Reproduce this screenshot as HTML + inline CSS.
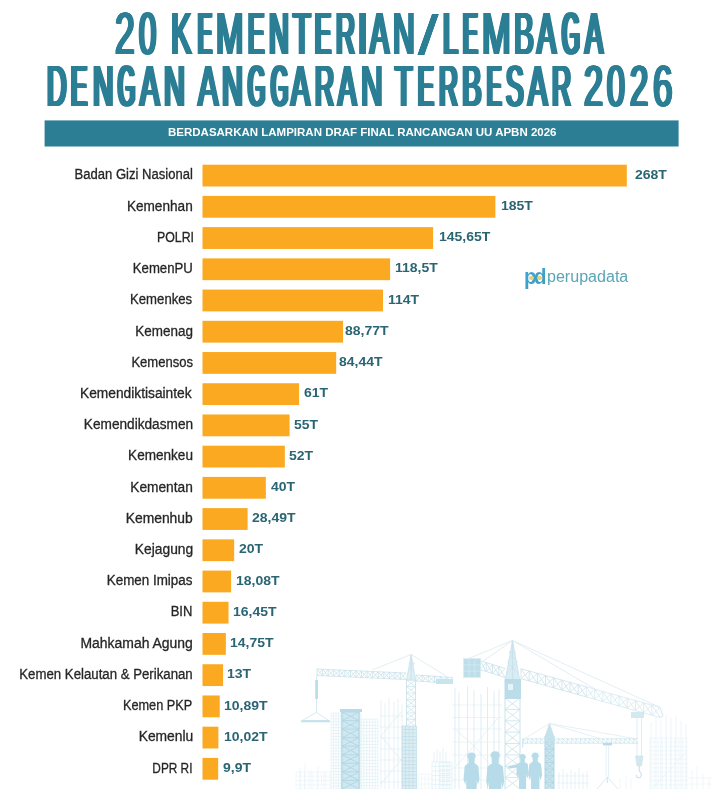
<!DOCTYPE html>
<html lang="id"><head><meta charset="utf-8"><title>20 Kementerian/Lembaga dengan Anggaran Terbesar 2026</title>
<style>
html,body{margin:0;padding:0;background:#fff;}
body{width:720px;height:789px;position:relative;overflow:hidden;font-family:"Liberation Sans",sans-serif;}
.tl{position:absolute;left:0;width:720px;height:59px;white-space:pre;font-weight:normal;color:#2b7e94;font-size:59px;line-height:59px;}
.tl span{display:inline-block;width:0;position:relative;top:0;transform-origin:0 0;}
.tl .sp{left:0;white-space:pre;}
.sub{position:absolute;white-space:nowrap;font-weight:bold;color:#fff;font-size:11.6px;line-height:12px;transform-origin:0 0;transform:scaleX(0.992);}
.lab{position:absolute;white-space:nowrap;color:#262626;-webkit-text-stroke:0.3px #262626;font-size:14px;line-height:16px;transform-origin:100% 50%;}
.val{position:absolute;white-space:nowrap;color:#2a6574;font-weight:bold;font-size:13.4px;line-height:16px;transform-origin:0 50%;}
.logo{position:absolute;left:524.6px;top:262px;height:30px;width:120px;white-space:nowrap;}
.logo .pd{position:absolute;left:-0.6px;top:-0.4px;font-weight:bold;font-size:22px;line-height:30px;letter-spacing:-2.7px;color:#46a1cd;background:linear-gradient(150deg,#3fa4df 20%,#3d9db8 80%);-webkit-background-clip:text;background-clip:text;-webkit-text-fill-color:transparent;padding:0 4px 0 1px;margin-left:-1px;transform-origin:0 50%;transform:scaleX(0.93);}
.logo .dot{position:absolute;top:13.8px;width:4.6px;height:4.6px;border-radius:50%;background:#e8cf7a;}
.logo .pn{position:absolute;left:22.6px;top:0;font-size:15.6px;line-height:30px;color:#5aa5b5;transform-origin:0 50%;transform:scaleX(1.03);}
</style></head><body>
<div class="tl" id="t1" style="top:5.00px;font-size:59px"><span style="left:115.34px;transform:scaleX(0.6024);text-shadow:-2.23px 0 0 #2b7e94,-1.49px 0 0 #2b7e94,-0.74px 0 0 #2b7e94,0.74px 0 0 #2b7e94,1.49px 0 0 #2b7e94,2.23px 0 0 #2b7e94;">2</span><span style="left:139.12px;transform:scaleX(0.5253);text-shadow:-2.96px 0 0 #2b7e94,-1.97px 0 0 #2b7e94,-0.99px 0 0 #2b7e94,0.99px 0 0 #2b7e94,1.97px 0 0 #2b7e94,2.96px 0 0 #2b7e94;">0</span><span class="sp"> </span><span style="left:170.77px;transform:scaleX(0.5239);text-shadow:-2.98px 0 0 #2b7e94,-1.98px 0 0 #2b7e94,-0.99px 0 0 #2b7e94,0.99px 0 0 #2b7e94,1.98px 0 0 #2b7e94,2.98px 0 0 #2b7e94;">K</span><span style="left:197.73px;transform:scaleX(0.3505);text-shadow:-5.40px 0 0 #2b7e94,-3.60px 0 0 #2b7e94,-1.80px 0 0 #2b7e94,1.80px 0 0 #2b7e94,3.60px 0 0 #2b7e94,5.40px 0 0 #2b7e94;">E</span><span style="left:216.31px;transform:scaleX(0.5588);text-shadow:-2.62px 0 0 #2b7e94,-1.75px 0 0 #2b7e94,-0.87px 0 0 #2b7e94,0.87px 0 0 #2b7e94,1.75px 0 0 #2b7e94,2.62px 0 0 #2b7e94;">M</span><span style="left:247.89px;transform:scaleX(0.4151);text-shadow:-4.48px 0 0 #2b7e94,-2.98px 0 0 #2b7e94,-1.49px 0 0 #2b7e94,1.49px 0 0 #2b7e94,2.98px 0 0 #2b7e94,4.48px 0 0 #2b7e94;">E</span><span style="left:269.01px;transform:scaleX(0.4655);text-shadow:-3.70px 0 0 #2b7e94,-2.46px 0 0 #2b7e94,-1.23px 0 0 #2b7e94,1.23px 0 0 #2b7e94,2.46px 0 0 #2b7e94,3.70px 0 0 #2b7e94;">N</span><span style="left:293.04px;transform:scaleX(0.4893);text-shadow:-3.38px 0 0 #2b7e94,-2.25px 0 0 #2b7e94,-1.13px 0 0 #2b7e94,1.13px 0 0 #2b7e94,2.25px 0 0 #2b7e94,3.38px 0 0 #2b7e94;">T</span><span style="left:314.97px;transform:scaleX(0.4038);text-shadow:-4.68px 0 0 #2b7e94,-3.12px 0 0 #2b7e94,-1.56px 0 0 #2b7e94,1.56px 0 0 #2b7e94,3.12px 0 0 #2b7e94,4.68px 0 0 #2b7e94;">E</span><span style="left:336.37px;transform:scaleX(0.4441);text-shadow:-4.01px 0 0 #2b7e94,-2.67px 0 0 #2b7e94,-1.34px 0 0 #2b7e94,1.34px 0 0 #2b7e94,2.67px 0 0 #2b7e94,4.01px 0 0 #2b7e94;">R</span><span style="left:354.20px;transform:scaleX(1.0545);text-shadow:0.00px 0 0 #2b7e94,0.00px 0 0 #2b7e94,0.00px 0 0 #2b7e94,0.00px 0 0 #2b7e94,0.00px 0 0 #2b7e94,0.00px 0 0 #2b7e94;">I</span><span style="left:370.26px;transform:scaleX(0.4806);text-shadow:-3.49px 0 0 #2b7e94,-2.33px 0 0 #2b7e94,-1.16px 0 0 #2b7e94,1.16px 0 0 #2b7e94,2.33px 0 0 #2b7e94,3.49px 0 0 #2b7e94;">A</span><span style="left:393.38px;transform:scaleX(0.5091);text-shadow:-3.14px 0 0 #2b7e94,-2.10px 0 0 #2b7e94,-1.05px 0 0 #2b7e94,1.05px 0 0 #2b7e94,2.10px 0 0 #2b7e94,3.14px 0 0 #2b7e94;">N</span><span style="left:417.89px;transform:scaleX(1.3036);font-size:55.8px;text-shadow:-0.30px 0 0 #2b7e94,-0.20px 0 0 #2b7e94,-0.10px 0 0 #2b7e94,0.10px 0 0 #2b7e94,0.20px 0 0 #2b7e94,0.30px 0 0 #2b7e94;">/</span><span style="left:442.60px;transform:scaleX(0.4537);text-shadow:-3.86px 0 0 #2b7e94,-2.58px 0 0 #2b7e94,-1.29px 0 0 #2b7e94,1.29px 0 0 #2b7e94,2.58px 0 0 #2b7e94,3.86px 0 0 #2b7e94;">L</span><span style="left:462.73px;transform:scaleX(0.3698);text-shadow:-5.36px 0 0 #2b7e94,-3.57px 0 0 #2b7e94,-1.79px 0 0 #2b7e94,1.79px 0 0 #2b7e94,3.57px 0 0 #2b7e94,5.36px 0 0 #2b7e94;">E</span><span style="left:481.91px;transform:scaleX(0.5853);text-shadow:-2.38px 0 0 #2b7e94,-1.58px 0 0 #2b7e94,-0.79px 0 0 #2b7e94,0.79px 0 0 #2b7e94,1.58px 0 0 #2b7e94,2.38px 0 0 #2b7e94;">M</span><span style="left:514.19px;transform:scaleX(0.5077);text-shadow:-3.16px 0 0 #2b7e94,-2.11px 0 0 #2b7e94,-1.05px 0 0 #2b7e94,1.05px 0 0 #2b7e94,2.11px 0 0 #2b7e94,3.16px 0 0 #2b7e94;">B</span><span style="left:537.35px;transform:scaleX(0.4836);text-shadow:-3.45px 0 0 #2b7e94,-2.30px 0 0 #2b7e94,-1.15px 0 0 #2b7e94,1.15px 0 0 #2b7e94,2.30px 0 0 #2b7e94,3.45px 0 0 #2b7e94;">A</span><span style="left:562.03px;transform:scaleX(0.3864);text-shadow:-5.01px 0 0 #2b7e94,-3.34px 0 0 #2b7e94,-1.67px 0 0 #2b7e94,1.67px 0 0 #2b7e94,3.34px 0 0 #2b7e94,5.01px 0 0 #2b7e94;">G</span><span style="left:584.93px;transform:scaleX(0.4567);text-shadow:-3.82px 0 0 #2b7e94,-2.55px 0 0 #2b7e94,-1.27px 0 0 #2b7e94,1.27px 0 0 #2b7e94,2.55px 0 0 #2b7e94,3.82px 0 0 #2b7e94;">A</span></div>
<div class="tl" id="t2" style="top:56.00px;font-size:58.2px"><span style="left:47.07px;transform:scaleX(0.4639);text-shadow:-3.75px 0 0 #2b7e94,-2.50px 0 0 #2b7e94,-1.25px 0 0 #2b7e94,1.25px 0 0 #2b7e94,2.50px 0 0 #2b7e94,3.75px 0 0 #2b7e94;">D</span><span style="left:71.44px;transform:scaleX(0.4131);text-shadow:-4.55px 0 0 #2b7e94,-3.03px 0 0 #2b7e94,-1.52px 0 0 #2b7e94,1.52px 0 0 #2b7e94,3.03px 0 0 #2b7e94,4.55px 0 0 #2b7e94;">E</span><span style="left:92.70px;transform:scaleX(0.4866);text-shadow:-3.45px 0 0 #2b7e94,-2.30px 0 0 #2b7e94,-1.15px 0 0 #2b7e94,1.15px 0 0 #2b7e94,2.30px 0 0 #2b7e94,3.45px 0 0 #2b7e94;">N</span><span style="left:118.36px;transform:scaleX(0.3779);text-shadow:-5.23px 0 0 #2b7e94,-3.48px 0 0 #2b7e94,-1.74px 0 0 #2b7e94,1.74px 0 0 #2b7e94,3.48px 0 0 #2b7e94,5.23px 0 0 #2b7e94;">G</span><span style="left:139.82px;transform:scaleX(0.4993);text-shadow:-3.30px 0 0 #2b7e94,-2.20px 0 0 #2b7e94,-1.10px 0 0 #2b7e94,1.10px 0 0 #2b7e94,2.20px 0 0 #2b7e94,3.30px 0 0 #2b7e94;">A</span><span style="left:163.52px;transform:scaleX(0.4977);text-shadow:-3.32px 0 0 #2b7e94,-2.21px 0 0 #2b7e94,-1.11px 0 0 #2b7e94,1.11px 0 0 #2b7e94,2.21px 0 0 #2b7e94,3.32px 0 0 #2b7e94;">N</span><span class="sp"> </span><span style="left:198.15px;transform:scaleX(0.5235);text-shadow:-3.02px 0 0 #2b7e94,-2.01px 0 0 #2b7e94,-1.01px 0 0 #2b7e94,1.01px 0 0 #2b7e94,2.01px 0 0 #2b7e94,3.02px 0 0 #2b7e94;">A</span><span style="left:222.32px;transform:scaleX(0.4977);text-shadow:-3.32px 0 0 #2b7e94,-2.21px 0 0 #2b7e94,-1.11px 0 0 #2b7e94,1.11px 0 0 #2b7e94,2.21px 0 0 #2b7e94,3.32px 0 0 #2b7e94;">N</span><span style="left:248.36px;transform:scaleX(0.3779);text-shadow:-5.23px 0 0 #2b7e94,-3.48px 0 0 #2b7e94,-1.74px 0 0 #2b7e94,1.74px 0 0 #2b7e94,3.48px 0 0 #2b7e94,5.23px 0 0 #2b7e94;">G</span><span style="left:270.86px;transform:scaleX(0.3779);text-shadow:-5.23px 0 0 #2b7e94,-3.48px 0 0 #2b7e94,-1.74px 0 0 #2b7e94,1.74px 0 0 #2b7e94,3.48px 0 0 #2b7e94,5.23px 0 0 #2b7e94;">G</span><span style="left:291.27px;transform:scaleX(0.4842);text-shadow:-3.48px 0 0 #2b7e94,-2.32px 0 0 #2b7e94,-1.16px 0 0 #2b7e94,1.16px 0 0 #2b7e94,2.32px 0 0 #2b7e94,3.48px 0 0 #2b7e94;">A</span><span style="left:315.44px;transform:scaleX(0.4536);text-shadow:-3.90px 0 0 #2b7e94,-2.60px 0 0 #2b7e94,-1.30px 0 0 #2b7e94,1.30px 0 0 #2b7e94,2.60px 0 0 #2b7e94,3.90px 0 0 #2b7e94;">R</span><span style="left:338.30px;transform:scaleX(0.4721);text-shadow:-3.64px 0 0 #2b7e94,-2.43px 0 0 #2b7e94,-1.21px 0 0 #2b7e94,1.21px 0 0 #2b7e94,2.43px 0 0 #2b7e94,3.64px 0 0 #2b7e94;">A</span><span style="left:360.88px;transform:scaleX(0.5161);text-shadow:-3.10px 0 0 #2b7e94,-2.07px 0 0 #2b7e94,-1.03px 0 0 #2b7e94,1.03px 0 0 #2b7e94,2.07px 0 0 #2b7e94,3.10px 0 0 #2b7e94;">N</span><span class="sp"> </span><span style="left:395.27px;transform:scaleX(0.4888);text-shadow:-3.43px 0 0 #2b7e94,-2.28px 0 0 #2b7e94,-1.14px 0 0 #2b7e94,1.14px 0 0 #2b7e94,2.28px 0 0 #2b7e94,3.43px 0 0 #2b7e94;">T</span><span style="left:418.03px;transform:scaleX(0.4017);text-shadow:-4.76px 0 0 #2b7e94,-3.17px 0 0 #2b7e94,-1.59px 0 0 #2b7e94,1.59px 0 0 #2b7e94,3.17px 0 0 #2b7e94,4.76px 0 0 #2b7e94;">E</span><span style="left:438.87px;transform:scaleX(0.4502);text-shadow:-3.95px 0 0 #2b7e94,-2.63px 0 0 #2b7e94,-1.32px 0 0 #2b7e94,1.32px 0 0 #2b7e94,2.63px 0 0 #2b7e94,3.95px 0 0 #2b7e94;">R</span><span style="left:462.25px;transform:scaleX(0.5069);text-shadow:-3.21px 0 0 #2b7e94,-2.14px 0 0 #2b7e94,-1.07px 0 0 #2b7e94,1.07px 0 0 #2b7e94,2.14px 0 0 #2b7e94,3.21px 0 0 #2b7e94;">B</span><span style="left:486.96px;transform:scaleX(0.3682);text-shadow:-5.40px 0 0 #2b7e94,-3.60px 0 0 #2b7e94,-1.80px 0 0 #2b7e94,1.80px 0 0 #2b7e94,3.60px 0 0 #2b7e94,5.40px 0 0 #2b7e94;">E</span><span style="left:506.35px;transform:scaleX(0.4517);text-shadow:-3.93px 0 0 #2b7e94,-2.62px 0 0 #2b7e94,-1.31px 0 0 #2b7e94,1.31px 0 0 #2b7e94,2.62px 0 0 #2b7e94,3.93px 0 0 #2b7e94;">S</span><span style="left:528.22px;transform:scaleX(0.4993);text-shadow:-3.30px 0 0 #2b7e94,-2.20px 0 0 #2b7e94,-1.10px 0 0 #2b7e94,1.10px 0 0 #2b7e94,2.20px 0 0 #2b7e94,3.30px 0 0 #2b7e94;">A</span><span style="left:551.64px;transform:scaleX(0.4536);text-shadow:-3.90px 0 0 #2b7e94,-2.60px 0 0 #2b7e94,-1.30px 0 0 #2b7e94,1.30px 0 0 #2b7e94,2.60px 0 0 #2b7e94,3.90px 0 0 #2b7e94;">R</span><span class="sp"> </span><span style="left:583.87px;transform:scaleX(0.5868);text-shadow:-2.40px 0 0 #2b7e94,-1.60px 0 0 #2b7e94,-0.80px 0 0 #2b7e94,0.80px 0 0 #2b7e94,1.60px 0 0 #2b7e94,2.40px 0 0 #2b7e94;">2</span><span style="left:607.00px;transform:scaleX(0.5481);text-shadow:-2.76px 0 0 #2b7e94,-1.84px 0 0 #2b7e94,-0.92px 0 0 #2b7e94,0.92px 0 0 #2b7e94,1.84px 0 0 #2b7e94,2.76px 0 0 #2b7e94;">0</span><span style="left:630.31px;transform:scaleX(0.5629);text-shadow:-2.62px 0 0 #2b7e94,-1.74px 0 0 #2b7e94,-0.87px 0 0 #2b7e94,0.87px 0 0 #2b7e94,1.74px 0 0 #2b7e94,2.62px 0 0 #2b7e94;">2</span><span style="left:652.56px;transform:scaleX(0.6059);text-shadow:-2.24px 0 0 #2b7e94,-1.49px 0 0 #2b7e94,-0.75px 0 0 #2b7e94,0.75px 0 0 #2b7e94,1.49px 0 0 #2b7e94,2.24px 0 0 #2b7e94;">6</span></div>
<svg style="position:absolute;left:0;top:110px" width="720" height="45" viewBox="0 110 720 45"><rect x="44.6" y="120.4" width="634" height="26.1" fill="#2b7e94"/></svg>
<div class="sub" id="sub" style="left:167.6px;top:126.3px;">BERDASARKAN LAMPIRAN DRAF FINAL RANCANGAN UU APBN 2026</div>

<div class="lab" id="l0" style="top:166.40px;right:527.50px;transform:scaleX(0.9323)">Badan Gizi Nasional</div>
<div class="val" id="v0" style="top:166.80px;left:635.32px;transform:scaleX(1.0450)">268T</div>
<div class="lab" id="l1" style="top:197.62px;right:527.28px;transform:scaleX(0.9723)">Kemenhan</div>
<div class="val" id="v1" style="top:198.02px;left:500.50px;transform:scaleX(1.0450)">185T</div>
<div class="lab" id="l2" style="top:228.84px;right:526.49px;transform:scaleX(0.8819)">POLRI</div>
<div class="val" id="v2" style="top:229.24px;left:438.50px;transform:scaleX(1.0450)">145,65T</div>
<div class="lab" id="l3" style="top:260.06px;right:526.94px;transform:scaleX(0.9404)">KemenPU</div>
<div class="val" id="v3" style="top:260.46px;left:394.50px;transform:scaleX(1.0450)">118,5T</div>
<div class="lab" id="l4" style="top:291.28px;right:527.47px;transform:scaleX(0.9388)">Kemenkes</div>
<div class="val" id="v4" style="top:291.68px;left:387.50px;transform:scaleX(1.0450)">114T</div>
<div class="lab" id="l5" style="top:322.51px;right:527.43px;transform:scaleX(0.9610)">Kemenag</div>
<div class="val" id="v5" style="top:322.91px;left:345.38px;transform:scaleX(1.0450)">88,77T</div>
<div class="lab" id="l6" style="top:353.73px;right:527.35px;transform:scaleX(0.9337)">Kemensos</div>
<div class="val" id="v6" style="top:354.13px;left:339.38px;transform:scaleX(1.0450)">84,44T</div>
<div class="lab" id="l7" style="top:384.95px;right:528.09px;transform:scaleX(0.9822)">Kemendiktisaintek</div>
<div class="val" id="v7" style="top:385.35px;left:304.00px;transform:scaleX(1.0450)">61T</div>
<div class="lab" id="l8" style="top:416.17px;right:526.98px;transform:scaleX(0.9744)">Kemendikdasmen</div>
<div class="val" id="v8" style="top:416.57px;left:294.00px;transform:scaleX(1.0450)">55T</div>
<div class="lab" id="l9" style="top:447.39px;right:527.21px;transform:scaleX(0.9686)">Kemenkeu</div>
<div class="val" id="v9" style="top:447.79px;left:289.00px;transform:scaleX(1.0450)">52T</div>
<div class="lab" id="l10" style="top:478.61px;right:527.16px;transform:scaleX(0.9807)">Kementan</div>
<div class="val" id="v10" style="top:479.01px;left:270.58px;transform:scaleX(1.0450)">40T</div>
<div class="lab" id="l11" style="top:509.83px;right:527.73px;transform:scaleX(0.9895)">Kemenhub</div>
<div class="val" id="v11" style="top:510.23px;left:252.32px;transform:scaleX(1.0450)">28,49T</div>
<div class="lab" id="l12" style="top:541.05px;right:526.82px;transform:scaleX(0.9857)">Kejagung</div>
<div class="val" id="v12" style="top:541.45px;left:239.33px;transform:scaleX(1.0450)">20T</div>
<div class="lab" id="l13" style="top:572.27px;right:527.41px;transform:scaleX(0.9584)">Kemen Imipas</div>
<div class="val" id="v13" style="top:572.67px;left:235.50px;transform:scaleX(1.0450)">18,08T</div>
<div class="lab" id="l14" style="top:603.49px;right:527.34px;transform:scaleX(0.9284)">BIN</div>
<div class="val" id="v14" style="top:603.89px;left:232.50px;transform:scaleX(1.0450)">16,45T</div>
<div class="lab" id="l15" style="top:634.72px;right:527.22px;transform:scaleX(0.9962)">Mahkamah Agung</div>
<div class="val" id="v15" style="top:635.12px;left:229.50px;transform:scaleX(1.0450)">14,75T</div>
<div class="lab" id="l16" style="top:665.94px;right:527.05px;transform:scaleX(0.9440)">Kemen Kelautan &amp; Perikanan</div>
<div class="val" id="v16" style="top:666.34px;left:226.50px;transform:scaleX(1.0450)">13T</div>
<div class="lab" id="l17" style="top:697.16px;right:527.69px;transform:scaleX(0.9088)">Kemen PKP</div>
<div class="val" id="v17" style="top:697.56px;left:223.50px;transform:scaleX(1.0450)">10,89T</div>
<div class="lab" id="l18" style="top:728.38px;right:527.18px;transform:scaleX(0.9879)">Kemenlu</div>
<div class="val" id="v18" style="top:728.78px;left:223.50px;transform:scaleX(1.0450)">10,02T</div>
<div class="lab" id="l19" style="top:759.60px;right:527.24px;transform:scaleX(0.8450)">DPR RI</div>
<div class="val" id="v19" style="top:760.00px;left:223.00px;transform:scaleX(1.0450)">9,9T</div>
<svg style="position:absolute;left:0;top:0" width="720" height="789" viewBox="0 0 720 789" fill="#faa921"><rect x="202.5" y="164.70" width="424.30" height="21.8"/><rect x="202.5" y="195.92" width="292.89" height="21.8"/><rect x="202.5" y="227.14" width="230.59" height="21.8"/><rect x="202.5" y="258.36" width="187.61" height="21.8"/><rect x="202.5" y="289.58" width="180.49" height="21.8"/><rect x="202.5" y="320.81" width="140.54" height="21.8"/><rect x="202.5" y="352.03" width="133.69" height="21.8"/><rect x="202.5" y="383.25" width="96.58" height="21.8"/><rect x="202.5" y="414.47" width="87.08" height="21.8"/><rect x="202.5" y="445.69" width="82.33" height="21.8"/><rect x="202.5" y="476.91" width="63.33" height="21.8"/><rect x="202.5" y="508.13" width="45.11" height="21.8"/><rect x="202.5" y="539.35" width="31.66" height="21.8"/><rect x="202.5" y="570.57" width="28.62" height="21.8"/><rect x="202.5" y="601.79" width="26.04" height="21.8"/><rect x="202.5" y="633.02" width="23.35" height="21.8"/><rect x="202.5" y="664.24" width="20.58" height="21.8"/><rect x="202.5" y="695.46" width="17.24" height="21.8"/><rect x="202.5" y="726.68" width="15.86" height="21.8"/><rect x="202.5" y="757.90" width="15.67" height="21.8"/></svg>
<svg style="position:absolute;left:280px;top:620px" width="440" height="169" viewBox="280 620 440 169" fill="none" stroke-linecap="butt"><path d="M296.0 772.0L296.0 789.0M300.2 772.0L300.2 789.0M304.5 772.0L304.5 789.0M308.8 772.0L308.8 789.0M313.0 772.0L313.0 789.0M317.2 772.0L317.2 789.0M321.5 772.0L321.5 789.0M325.8 772.0L325.8 789.0M330.0 772.0L330.0 789.0M296.0 772.0L330.0 772.0M296.0 776.2L330.0 776.2M296.0 780.5L330.0 780.5M296.0 784.8L330.0 784.8M296.0 789.0L330.0 789.0" stroke="#e4f1f6" stroke-width="0.5" fill="none"/><path d="M300.0 768.0L300.0 789.0M305.0 764.0L305.0 789.0M311.0 770.0L311.0 789.0M318.0 766.0L318.0 789.0M324.0 772.0L324.0 789.0" stroke="#e4f1f6" stroke-width="0.6" fill="none"/><path d="M331.0 713.0L331.0 789.0M333.5 713.0L333.5 789.0M336.0 713.0L336.0 789.0M338.5 713.0L338.5 789.0M341.0 713.0L341.0 789.0M343.5 713.0L343.5 789.0M346.0 713.0L346.0 789.0M348.5 713.0L348.5 789.0M351.0 713.0L351.0 789.0M353.5 713.0L353.5 789.0M356.0 713.0L356.0 789.0M358.5 713.0L358.5 789.0M361.0 713.0L361.0 789.0M331.0 713.0L361.0 713.0M331.0 715.9L361.0 715.9M331.0 718.8L361.0 718.8M331.0 721.8L361.0 721.8M331.0 724.7L361.0 724.7M331.0 727.6L361.0 727.6M331.0 730.5L361.0 730.5M331.0 733.5L361.0 733.5M331.0 736.4L361.0 736.4M331.0 739.3L361.0 739.3M331.0 742.2L361.0 742.2M331.0 745.2L361.0 745.2M331.0 748.1L361.0 748.1M331.0 751.0L361.0 751.0M331.0 753.9L361.0 753.9M331.0 756.8L361.0 756.8M331.0 759.8L361.0 759.8M331.0 762.7L361.0 762.7M331.0 765.6L361.0 765.6M331.0 768.5L361.0 768.5M331.0 771.5L361.0 771.5M331.0 774.4L361.0 774.4M331.0 777.3L361.0 777.3M331.0 780.2L361.0 780.2M331.0 783.2L361.0 783.2M331.0 786.1L361.0 786.1M331.0 789.0L361.0 789.0" stroke="#d6eaf1" stroke-width="0.5" fill="none"/><path d="M361.0 719.0L361.0 789.0M363.8 719.0L363.8 789.0M366.7 719.0L366.7 789.0M369.5 719.0L369.5 789.0M372.3 719.0L372.3 789.0M375.2 719.0L375.2 789.0M378.0 719.0L378.0 789.0M361.0 719.0L378.0 719.0M361.0 722.2L378.0 722.2M361.0 725.4L378.0 725.4M361.0 728.5L378.0 728.5M361.0 731.7L378.0 731.7M361.0 734.9L378.0 734.9M361.0 738.1L378.0 738.1M361.0 741.3L378.0 741.3M361.0 744.5L378.0 744.5M361.0 747.6L378.0 747.6M361.0 750.8L378.0 750.8M361.0 754.0L378.0 754.0M361.0 757.2L378.0 757.2M361.0 760.4L378.0 760.4M361.0 763.5L378.0 763.5M361.0 766.7L378.0 766.7M361.0 769.9L378.0 769.9M361.0 773.1L378.0 773.1M361.0 776.3L378.0 776.3M361.0 779.5L378.0 779.5M361.0 782.6L378.0 782.6M361.0 785.8L378.0 785.8M361.0 789.0L378.0 789.0" stroke="#d6eaf1" stroke-width="0.5" fill="none"/><rect x="341.0" y="710.0" width="19.0" height="79.0" fill="#c4e2ec" opacity="0.75"/><path d="M342.0 712.0L342.0 789.0" stroke="#b0d6e4" stroke-width="1.1"/><path d="M359.0 712.0L359.0 789.0" stroke="#b0d6e4" stroke-width="1.1"/><path d="M342.0 712.0L359.0 720.6M359.0 712.0L342.0 720.6M342.0 712.0L359.0 712.0M342.0 720.6L359.0 729.1M359.0 720.6L342.0 729.1M342.0 720.6L359.0 720.6M342.0 729.1L359.0 737.7M359.0 729.1L342.0 737.7M342.0 729.1L359.0 729.1M342.0 737.7L359.0 746.2M359.0 737.7L342.0 746.2M342.0 737.7L359.0 737.7M342.0 746.2L359.0 754.8M359.0 746.2L342.0 754.8M342.0 746.2L359.0 746.2M342.0 754.8L359.0 763.3M359.0 754.8L342.0 763.3M342.0 754.8L359.0 754.8M342.0 763.3L359.0 771.9M359.0 763.3L342.0 771.9M342.0 763.3L359.0 763.3M342.0 771.9L359.0 780.4M359.0 771.9L342.0 780.4M342.0 771.9L359.0 771.9M342.0 780.4L359.0 789.0M359.0 780.4L342.0 789.0M342.0 780.4L359.0 780.4" stroke="#b0d6e4" stroke-width="0.9" fill="none"/><rect x="340.0" y="709.0" width="22.0" height="3.0" fill="#b7dbe8" opacity="1"/><path d="M381.0 700.0L381.0 789.0M385.0 703.0L385.0 789.0M389.0 698.0L389.0 789.0M394.0 702.0L394.0 789.0M398.0 699.0L398.0 789.0M402.0 704.0L402.0 789.0" stroke="#d6eaf1" stroke-width="0.6" fill="none"/><path d="M380.0 716.0L404.0 716.0M380.0 727.0L404.0 727.0M380.0 738.0L404.0 738.0M380.0 749.0L404.0 749.0M380.0 760.0L404.0 760.0M380.0 771.0L404.0 771.0M380.0 782.0L404.0 782.0" stroke="#d6eaf1" stroke-width="0.5" fill="none"/><path d="M401.0 712.0L381.0 736.0L401.0 760.0L381.0 784.0" stroke="#d6eaf1" stroke-width="0.6" fill="none"/><path d="M406.5 680.0L406.5 726.0" stroke="#c9e2eb" stroke-width="0.8999999999999999"/><path d="M415.5 680.0L415.5 726.0" stroke="#c9e2eb" stroke-width="0.8999999999999999"/><path d="M406.5 680.0L415.5 686.6M415.5 680.0L406.5 686.6M406.5 680.0L415.5 680.0M406.5 686.6L415.5 693.1M415.5 686.6L406.5 693.1M406.5 686.6L415.5 686.6M406.5 693.1L415.5 699.7M415.5 693.1L406.5 699.7M406.5 693.1L415.5 693.1M406.5 699.7L415.5 706.3M415.5 699.7L406.5 706.3M406.5 699.7L415.5 699.7M406.5 706.3L415.5 712.9M415.5 706.3L406.5 712.9M406.5 706.3L415.5 706.3M406.5 712.9L415.5 719.4M415.5 712.9L406.5 719.4M406.5 712.9L415.5 712.9M406.5 719.4L415.5 726.0M415.5 719.4L406.5 726.0M406.5 719.4L415.5 719.4" stroke="#c9e2eb" stroke-width="0.7" fill="none"/><path d="M406.5 680.0L411.2 654.5L415.5 680.0Z" stroke="#c9e2eb" stroke-width="0.8" fill="#deeff5"/><path d="M411.2 654.5L411.2 680.0" stroke="#c9e2eb" stroke-width="1.0"/><path d="M408.0 672.0L414.5 663.0L409.0 663.0L414.0 672.0" stroke="#c9e2eb" stroke-width="0.6" fill="none"/><rect x="402.0" y="726.0" width="14.5" height="63.0" fill="#c4e2ec" opacity="0.6"/><path d="M402.0 726.0L402.0 789.0M405.6 726.0L405.6 789.0M409.2 726.0L409.2 789.0M412.9 726.0L412.9 789.0M416.5 726.0L416.5 789.0M402.0 726.0L416.5 726.0M402.0 729.5L416.5 729.5M402.0 733.0L416.5 733.0M402.0 736.5L416.5 736.5M402.0 740.0L416.5 740.0M402.0 743.5L416.5 743.5M402.0 747.0L416.5 747.0M402.0 750.5L416.5 750.5M402.0 754.0L416.5 754.0M402.0 757.5L416.5 757.5M402.0 761.0L416.5 761.0M402.0 764.5L416.5 764.5M402.0 768.0L416.5 768.0M402.0 771.5L416.5 771.5M402.0 775.0L416.5 775.0M402.0 778.5L416.5 778.5M402.0 782.0L416.5 782.0M402.0 785.5L416.5 785.5M402.0 789.0L416.5 789.0" stroke="#b9dae6" stroke-width="0.6" fill="none"/><path d="M317.0 669.0L406.0 673.0" stroke="#c9e2eb" stroke-width="0.8"/><path d="M317.0 675.5L406.0 679.5" stroke="#c9e2eb" stroke-width="0.8"/><path d="M317.0 669.0L322.6 675.8M317.0 675.5L322.6 669.2M317.0 669.0L317.0 675.5M322.6 669.2L328.1 676.0M322.6 675.8L328.1 669.5M322.6 669.2L322.6 675.8M328.1 669.5L333.7 676.2M328.1 676.0L333.7 669.8M328.1 669.5L328.1 676.0M333.7 669.8L339.2 676.5M333.7 676.2L339.2 670.0M333.7 669.8L333.7 676.2M339.2 670.0L344.8 676.8M339.2 676.5L344.8 670.2M339.2 670.0L339.2 676.5M344.8 670.2L350.4 677.0M344.8 676.8L350.4 670.5M344.8 670.2L344.8 676.8M350.4 670.5L355.9 677.2M350.4 677.0L355.9 670.8M350.4 670.5L350.4 677.0M355.9 670.8L361.5 677.5M355.9 677.2L361.5 671.0M355.9 670.8L355.9 677.2M361.5 671.0L367.1 677.8M361.5 677.5L367.1 671.2M361.5 671.0L361.5 677.5M367.1 671.2L372.6 678.0M367.1 677.8L372.6 671.5M367.1 671.2L367.1 677.8M372.6 671.5L378.2 678.2M372.6 678.0L378.2 671.8M372.6 671.5L372.6 678.0M378.2 671.8L383.8 678.5M378.2 678.2L383.8 672.0M378.2 671.8L378.2 678.2M383.8 672.0L389.3 678.8M383.8 678.5L389.3 672.2M383.8 672.0L383.8 678.5M389.3 672.2L394.9 679.0M389.3 678.8L394.9 672.5M389.3 672.2L389.3 678.8M394.9 672.5L400.4 679.2M394.9 679.0L400.4 672.8M394.9 672.5L394.9 679.0M400.4 672.8L406.0 679.5M400.4 679.2L406.0 673.0M400.4 672.8L400.4 679.2" stroke="#c9e2eb" stroke-width="0.8" fill="none"/><path d="M416.0 675.0L453.0 677.5" stroke="#c9e2eb" stroke-width="0.8"/><path d="M416.0 681.0L453.0 683.5" stroke="#c9e2eb" stroke-width="0.8"/><path d="M416.0 675.0L422.2 681.4M416.0 681.0L422.2 675.4M416.0 675.0L416.0 681.0M422.2 675.4L428.3 681.8M422.2 681.4L428.3 675.8M422.2 675.4L422.2 681.4M428.3 675.8L434.5 682.2M428.3 681.8L434.5 676.2M428.3 675.8L428.3 681.8M434.5 676.2L440.7 682.7M434.5 682.2L440.7 676.7M434.5 676.2L434.5 682.2M440.7 676.7L446.8 683.1M440.7 682.7L446.8 677.1M440.7 676.7L440.7 682.7M446.8 677.1L453.0 683.5M446.8 683.1L453.0 677.5M446.8 677.1L446.8 683.1" stroke="#c9e2eb" stroke-width="0.8" fill="none"/><rect x="436.0" y="679.0" width="17.0" height="5.0" fill="#c4e2ec" opacity="0.9"/><path d="M411.2 654.5L372.0 670.0" stroke="#d7e6ec" stroke-width="0.7"/><path d="M411.2 654.5L446.0 676.0" stroke="#d7e6ec" stroke-width="0.7"/><path d="M316.5 676.0L316.5 713.0" stroke="#c9e2eb" stroke-width="0.7"/><rect x="315.3" y="680.0" width="2.6" height="19.0" fill="#b7dbe8" opacity="1"/><path d="M316.5 712.5L302.0 720.5L329.0 720.5Z" stroke="#c9e2eb" stroke-width="0.7" fill="none"/><rect x="301.0" y="720.3" width="29.0" height="2.0" fill="#c4e2ec" opacity="1"/><path d="M432.0 762.0L432.0 789.0M435.6 762.0L435.6 789.0M439.2 762.0L439.2 789.0M442.8 762.0L442.8 789.0M446.4 762.0L446.4 789.0M450.0 762.0L450.0 789.0M432.0 762.0L450.0 762.0M432.0 766.5L450.0 766.5M432.0 771.0L450.0 771.0M432.0 775.5L450.0 775.5M432.0 780.0L450.0 780.0M432.0 784.5L450.0 784.5M432.0 789.0L450.0 789.0" stroke="#d6eaf1" stroke-width="0.5" fill="none"/><path d="M434.0 752.0L434.0 762.0M437.0 749.0L437.0 762.0M440.0 751.0L440.0 762.0M443.0 748.0L443.0 762.0M446.0 752.0L446.0 762.0" stroke="#d6eaf1" stroke-width="0.6" fill="none"/><path d="M418.0 774.0L418.0 789.0M421.5 774.0L421.5 789.0M425.0 774.0L425.0 789.0M428.5 774.0L428.5 789.0M432.0 774.0L432.0 789.0M418.0 774.0L432.0 774.0M418.0 779.0L432.0 779.0M418.0 784.0L432.0 784.0M418.0 789.0L432.0 789.0" stroke="#e4f1f6" stroke-width="0.5" fill="none"/><path d="M455.0 688.0L455.0 789.0M459.0 692.0L459.0 789.0M467.5 686.0L467.5 789.0M474.0 690.0L474.0 789.0M481.0 694.0L481.0 789.0M487.5 687.0L487.5 789.0M494.0 691.0L494.0 789.0M499.0 689.0L499.0 789.0" stroke="#c9e2eb" stroke-width="0.6" fill="none"/><path d="M452.0 705.0L502.0 705.0M452.0 717.5L502.0 717.5M452.0 729.0L502.0 729.0M452.0 742.0L502.0 742.0M452.0 755.0L502.0 755.0M452.0 768.0L502.0 768.0M452.0 780.0L502.0 780.0" stroke="#d6eaf1" stroke-width="0.5" fill="none"/><path d="M498.0 718.0L474.0 746.0L498.0 774.0" stroke="#d6eaf1" stroke-width="0.6" fill="none"/><path d="M456.0 730.0L474.0 746.0L456.0 766.0" stroke="#d6eaf1" stroke-width="0.6" fill="none"/><path d="M505.0 698.0L505.0 789.0" stroke="#c9e2eb" stroke-width="1.0"/><path d="M520.0 698.0L520.0 789.0" stroke="#c9e2eb" stroke-width="1.0"/><path d="M505.0 698.0L520.0 709.4M520.0 698.0L505.0 709.4M505.0 698.0L520.0 698.0M505.0 709.4L520.0 720.8M520.0 709.4L505.0 720.8M505.0 709.4L520.0 709.4M505.0 720.8L520.0 732.1M520.0 720.8L505.0 732.1M505.0 720.8L520.0 720.8M505.0 732.1L520.0 743.5M520.0 732.1L505.0 743.5M505.0 732.1L520.0 732.1M505.0 743.5L520.0 754.9M520.0 743.5L505.0 754.9M505.0 743.5L520.0 743.5M505.0 754.9L520.0 766.2M520.0 754.9L505.0 766.2M505.0 754.9L520.0 754.9M505.0 766.2L520.0 777.6M520.0 766.2L505.0 777.6M505.0 766.2L520.0 766.2M505.0 777.6L520.0 789.0M520.0 777.6L505.0 789.0M505.0 777.6L520.0 777.6" stroke="#c9e2eb" stroke-width="0.8" fill="none"/><path d="M505.0 682.0L512.5 640.5L520.0 682.0Z" stroke="#c9e2eb" stroke-width="0.9" fill="#d9edf4"/><path d="M512.5 640.5L512.5 682.0" stroke="#c9e2eb" stroke-width="1.2"/><path d="M506.5 674.0L517.5 662.0L509.0 652.0L515.5 652.0L507.5 662.0L518.5 674.0" stroke="#c9e2eb" stroke-width="0.6" fill="none"/><rect x="504.5" y="679.0" width="16.5" height="20.0" fill="#b7dbe8" opacity="0.95"/><rect x="508.0" y="684.0" width="5.0" height="6.0" fill="#e6f3f8" opacity="1"/><path d="M480.0 660.5L505.0 668.5" stroke="#c9e2eb" stroke-width="0.8"/><path d="M480.0 669.5L505.0 677.5" stroke="#c9e2eb" stroke-width="0.8"/><path d="M480.0 660.5L486.2 671.5M480.0 669.5L486.2 662.5M480.0 660.5L480.0 669.5M486.2 662.5L492.5 673.5M486.2 671.5L492.5 664.5M486.2 662.5L486.2 671.5M492.5 664.5L498.8 675.5M492.5 673.5L498.8 666.5M492.5 664.5L492.5 673.5M498.8 666.5L505.0 677.5M498.8 675.5L505.0 668.5M498.8 666.5L498.8 675.5" stroke="#c9e2eb" stroke-width="0.8" fill="none"/><rect x="463.5" y="658.5" width="17.0" height="19.0" fill="#b7dbe8" opacity="0.9"/><path d="M463.5 658.5L463.5 677.5M469.2 658.5L469.2 677.5M474.8 658.5L474.8 677.5M480.5 658.5L480.5 677.5M463.5 658.5L480.5 658.5M463.5 664.8L480.5 664.8M463.5 671.2L480.5 671.2M463.5 677.5L480.5 677.5" stroke="#d9edf4" stroke-width="0.6" fill="none"/><path d="M521.0 668.7L586.4 686.9" stroke="#c9e2eb" stroke-width="0.8"/><path d="M521.0 678.7L586.4 696.9" stroke="#c9e2eb" stroke-width="0.8"/><path d="M521.0 668.7L529.2 681.0M521.0 678.7L529.2 671.0M521.0 668.7L521.0 678.7M529.2 671.0L537.4 683.3M529.2 681.0L537.4 673.3M529.2 671.0L529.2 681.0M537.4 673.3L545.5 685.5M537.4 683.3L545.5 675.5M537.4 673.3L537.4 683.3M545.5 675.5L553.7 687.8M545.5 685.5L553.7 677.8M545.5 675.5L545.5 685.5M553.7 677.8L561.9 690.1M553.7 687.8L561.9 680.1M553.7 677.8L553.7 687.8M561.9 680.1L570.1 692.4M561.9 690.1L570.1 682.4M561.9 680.1L561.9 690.1M570.1 682.4L578.2 694.6M570.1 692.4L578.2 684.6M570.1 682.4L570.1 692.4M578.2 684.6L586.4 696.9M578.2 694.6L586.4 686.9M578.2 684.6L578.2 694.6" stroke="#c9e2eb" stroke-width="0.8" fill="none"/><path d="M586.4 686.9L660.0 707.4" stroke="#d6e9f0" stroke-width="0.8"/><path d="M586.4 696.9L660.0 717.4" stroke="#d6e9f0" stroke-width="0.8"/><path d="M586.4 686.9L594.6 699.2M586.4 696.9L594.6 689.2M586.4 686.9L586.4 696.9M594.6 689.2L602.8 701.5M594.6 699.2L602.8 691.5M594.6 689.2L594.6 699.2M602.8 691.5L610.9 703.7M602.8 701.5L610.9 693.7M602.8 691.5L602.8 701.5M610.9 693.7L619.1 706.0M610.9 703.7L619.1 696.0M610.9 693.7L610.9 703.7M619.1 696.0L627.3 708.3M619.1 706.0L627.3 698.3M619.1 696.0L619.1 706.0M627.3 698.3L635.5 710.6M627.3 708.3L635.5 700.6M627.3 698.3L627.3 708.3M635.5 700.6L643.6 712.8M635.5 710.6L643.6 702.8M635.5 700.6L635.5 710.6M643.6 702.8L651.8 715.1M643.6 712.8L651.8 705.1M643.6 702.8L643.6 712.8M651.8 705.1L660.0 717.4M651.8 715.1L660.0 707.4M651.8 705.1L651.8 715.1" stroke="#d6e9f0" stroke-width="0.8" fill="none"/><path d="M660.0 707.4L663.0 716.0L660.0 717.4" stroke="#c9e2eb" stroke-width="0.8" fill="none"/><path d="M512.5 640.5L465.0 660.0" stroke="#d7e6ec" stroke-width="0.7"/><path d="M512.5 640.5L482.0 662.0" stroke="#d7e6ec" stroke-width="0.7"/><path d="M512.5 640.5L660.0 707.5" stroke="#d7e6ec" stroke-width="0.7"/><path d="M512.5 640.5L597.0 690.3" stroke="#d7e6ec" stroke-width="0.7"/><rect x="631.0" y="712.0" width="13.0" height="6.0" fill="#cfe6ee" opacity="0.9"/><path d="M637.0 718.0L637.0 757.0" stroke="#d3e7ee" stroke-width="0.7"/><path d="M641.5 718.0L641.5 757.0" stroke="#d3e7ee" stroke-width="0.7"/><path d="M635.5 756.0L643.0 756.0L641.5 766.0L637.0 766.0Z" stroke="#c9e2eb" stroke-width="0.6" fill="#d3e8ef"/><path d="M639.3 766V771Q643 774 640 777.5Q637 779 636 775" stroke="#c9e2eb" stroke-width="1.1" fill="none"/><rect x="545.0" y="736.0" width="9.0" height="53.0" fill="#c4e2ec" opacity="0.9"/><path d="M545.0 736.0L545.0 789.0" stroke="#a9d2e1" stroke-width="0.8999999999999999"/><path d="M554.0 736.0L554.0 789.0" stroke="#a9d2e1" stroke-width="0.8999999999999999"/><path d="M545.0 736.0L554.0 742.6M554.0 736.0L545.0 742.6M545.0 736.0L554.0 736.0M545.0 742.6L554.0 749.2M554.0 742.6L545.0 749.2M545.0 742.6L554.0 742.6M545.0 749.2L554.0 755.9M554.0 749.2L545.0 755.9M545.0 749.2L554.0 749.2M545.0 755.9L554.0 762.5M554.0 755.9L545.0 762.5M545.0 755.9L554.0 755.9M545.0 762.5L554.0 769.1M554.0 762.5L545.0 769.1M545.0 762.5L554.0 762.5M545.0 769.1L554.0 775.8M554.0 769.1L545.0 775.8M545.0 769.1L554.0 769.1M545.0 775.8L554.0 782.4M554.0 775.8L545.0 782.4M545.0 775.8L554.0 775.8M545.0 782.4L554.0 789.0M554.0 782.4L545.0 789.0M545.0 782.4L554.0 782.4" stroke="#a9d2e1" stroke-width="0.7" fill="none"/><path d="M545.0 737.0L549.5 723.5L554.0 737.0Z" stroke="#c9e2eb" stroke-width="0.9" fill="#c4e2ec"/><path d="M523.0 738.8L638.0 738.8" stroke="#c9e2eb" stroke-width="0.7"/><path d="M523.0 743.2L638.0 743.2" stroke="#c9e2eb" stroke-width="0.7"/><path d="M523.0 738.8L527.4 743.2M523.0 738.8L523.0 743.2M527.4 738.8L531.8 743.2M527.4 738.8L527.4 743.2M531.8 738.8L536.3 743.2M531.8 738.8L531.8 743.2M536.3 738.8L540.7 743.2M536.3 738.8L536.3 743.2M540.7 738.8L545.1 743.2M540.7 738.8L540.7 743.2M545.1 738.8L549.5 743.2M545.1 738.8L545.1 743.2M549.5 738.8L554.0 743.2M549.5 738.8L549.5 743.2M554.0 738.8L558.4 743.2M554.0 738.8L554.0 743.2M558.4 738.8L562.8 743.2M558.4 738.8L558.4 743.2M562.8 738.8L567.2 743.2M562.8 738.8L562.8 743.2M567.2 738.8L571.7 743.2M567.2 738.8L567.2 743.2M571.7 738.8L576.1 743.2M571.7 738.8L571.7 743.2M576.1 738.8L580.5 743.2M576.1 738.8L576.1 743.2M580.5 738.8L584.9 743.2M580.5 738.8L580.5 743.2M584.9 738.8L589.3 743.2M584.9 738.8L584.9 743.2M589.3 738.8L593.8 743.2M589.3 738.8L589.3 743.2M593.8 738.8L598.2 743.2M593.8 738.8L593.8 743.2M598.2 738.8L602.6 743.2M598.2 738.8L598.2 743.2M602.6 738.8L607.0 743.2M602.6 738.8L602.6 743.2M607.0 738.8L611.5 743.2M607.0 738.8L607.0 743.2M611.5 738.8L615.9 743.2M611.5 738.8L611.5 743.2M615.9 738.8L620.3 743.2M615.9 738.8L615.9 743.2M620.3 738.8L624.7 743.2M620.3 738.8L620.3 743.2M624.7 738.8L629.2 743.2M624.7 738.8L624.7 743.2M629.2 738.8L633.6 743.2M629.2 738.8L629.2 743.2M633.6 738.8L638.0 743.2M633.6 738.8L633.6 743.2" stroke="#c9e2eb" stroke-width="0.7" fill="none"/><path d="M522.8 738.8L522.8 747.5" stroke="#c9e2eb" stroke-width="1.0"/><path d="M549.5 723.5L524.0 739.0" stroke="#d7e6ec" stroke-width="0.6"/><path d="M549.5 723.5L600.0 738.5" stroke="#d7e6ec" stroke-width="0.6"/><path d="M549.5 723.5L636.0 738.8" stroke="#d7e6ec" stroke-width="0.6"/><rect x="603.0" y="742.8" width="9.0" height="2.6" fill="#b7dbe8" opacity="1"/><path d="M606.2 745.0L606.2 777.0" stroke="#c9e2eb" stroke-width="0.5"/><path d="M608.6 745.0L608.6 777.0" stroke="#c9e2eb" stroke-width="0.5"/><path d="M597.0 789.0L607.4 777.0L618.0 789.0" stroke="#c9e2eb" stroke-width="0.7" fill="none"/><path d="M607.4 777.0L607.4 783.0" stroke="#c9e2eb" stroke-width="0.9"/><path d="M559.0 772.0L559.0 789.0M563.0 769.0L563.0 789.0M567.0 773.0L567.0 789.0M571.0 770.0L571.0 789.0M575.0 772.0L575.0 789.0M579.0 768.0L579.0 789.0M583.0 773.0L583.0 789.0M587.0 771.0L587.0 789.0" stroke="#d6eaf1" stroke-width="0.6" fill="none"/><path d="M557.0 776.0L589.0 776.0M557.0 783.0L589.0 783.0" stroke="#d6eaf1" stroke-width="0.5" fill="none"/><path d="M620.0 778.0L620.0 789.0M626.0 775.0L626.0 789.0M631.0 779.0L631.0 789.0" stroke="#e4f1f6" stroke-width="0.6" fill="none"/><path d="M651.0 722.0L651.0 789.0M656.0 716.0L656.0 789.0M661.0 720.0L661.0 789.0M666.0 715.0L666.0 789.0M671.0 718.0L671.0 789.0M676.0 716.0L676.0 789.0M681.0 721.0L681.0 789.0M686.0 724.0L686.0 789.0" stroke="#e4f1f6" stroke-width="0.7" fill="none"/><path d="M650.0 738.0L650.0 789.0M654.1 738.0L654.1 789.0M658.2 738.0L658.2 789.0M662.3 738.0L662.3 789.0M666.4 738.0L666.4 789.0M670.6 738.0L670.6 789.0M674.7 738.0L674.7 789.0M678.8 738.0L678.8 789.0M682.9 738.0L682.9 789.0M687.0 738.0L687.0 789.0M650.0 738.0L687.0 738.0M650.0 742.2L687.0 742.2M650.0 746.5L687.0 746.5M650.0 750.8L687.0 750.8M650.0 755.0L687.0 755.0M650.0 759.2L687.0 759.2M650.0 763.5L687.0 763.5M650.0 767.8L687.0 767.8M650.0 772.0L687.0 772.0M650.0 776.2L687.0 776.2M650.0 780.5L687.0 780.5M650.0 784.8L687.0 784.8M650.0 789.0L687.0 789.0" stroke="#e4f1f6" stroke-width="0.5" fill="none"/><path d="M652.0 789.0L686.0 752.0" stroke="#e4f1f6" stroke-width="0.6" fill="none"/><path d="M692.0 770.0L692.0 789.0M697.0 766.0L697.0 789.0M703.0 774.0L703.0 789.0M709.0 778.0L709.0 789.0" stroke="#e4f1f6" stroke-width="0.6" fill="none"/><path d="M688.0 778.0L712.0 778.0M688.0 784.0L712.0 784.0" stroke="#e4f1f6" stroke-width="0.5" fill="none"/><path d="M440.0 762.0L440.0 789.0M444.0 762.0L444.0 789.0M448.0 762.0L448.0 789.0M452.0 762.0L452.0 789.0M440.0 762.0L452.0 762.0M440.0 765.9L452.0 765.9M440.0 769.7L452.0 769.7M440.0 773.6L452.0 773.6M440.0 777.4L452.0 777.4M440.0 781.3L452.0 781.3M440.0 785.1L452.0 785.1M440.0 789.0L452.0 789.0" stroke="#d6eaf1" stroke-width="0.5" fill="none"/><path d="M467.4 756.6Q467.4 752.5 471.5 752.5Q475.6 752.5 475.6 756.6L476.4 757.2L474.8 757.4L474.4 763.1L478.3 766.0L479.5 779.0L477.8 785.1L476.8 779.4L476.7 789L466.3 789L466.2 779.4L465.2 785.1L463.5 779.0L464.7 766.0L468.6 763.1L468.2 757.4L466.6 757.2Z" fill="#b7dbe8"/><path d="M490.5 755.9Q490.5 751.2 495.2 751.2Q499.9 751.2 499.9 755.9L500.7 756.5L498.9 756.7L498.5 763.4L503.0 766.6L504.2 781.6L502.5 788.6L501.5 782.1L501.4 789L489.0 789L488.9 782.1L487.9 788.6L486.2 781.6L487.4 766.6L491.9 763.4L491.5 756.7L489.7 756.5Z" fill="#b7dbe8"/><path d="M519.5 757.1Q519.5 754.0 522.6 754.0Q525.7 754.0 525.7 757.1L526.5 757.7L525.0 757.9L524.7 762.0L527.7 764.1L528.9 773.9L527.2 778.5L526.2 774.2L526.1 789L519.1 789L519.0 774.2L518.0 778.5L516.3 773.9L517.5 764.1L520.5 762.0L520.2 757.9L518.7 757.7Z" fill="#b7dbe8"/><path d="M531.7 756.1Q531.7 752.6 535.2 752.6Q538.7 752.6 538.7 756.1L539.5 756.7L538.0 756.9L537.6 761.6L541.0 764.1L542.2 775.2L540.5 780.4L539.5 775.6L539.4 789L531.0 789L530.9 775.6L529.9 780.4L528.2 775.2L529.4 764.1L532.8 761.6L532.4 756.9L530.9 756.7Z" fill="#b7dbe8"/><path d="M518.0 764.0L508.5 766.5L508.5 768.5L518.0 767.5Z" stroke="#b7dbe8" stroke-width="0.3" fill="#b7dbe8"/></svg>
<div class="logo"><span class="pd">pd</span><i class="dot" style="left:4.4px"></i><i class="dot" style="left:12.9px"></i><span class="pn">perupadata</span></div>
</body></html>
